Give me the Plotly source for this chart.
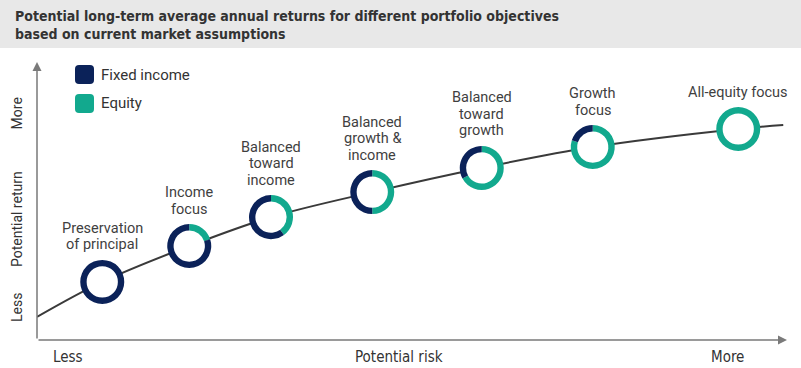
import plotly.graph_objects as go

# ---------------- data ----------------
portfolios = ["Preservation<br>of principal", "Income<br>focus", "Balanced<br>toward<br>income",
              "Balanced<br>growth &<br>income", "Balanced<br>toward<br>growth", "Growth<br>focus",
              "All-equity focus"]
equity_pct = [0, 20, 40, 50, 67, 80, 100]
fixed_income_pct = [100, 80, 60, 50, 33, 20, 0]
risk_level = [8.7, 20.3, 31.2, 44.7, 59.3, 74.1, 93.5]
return_level = [20.9, 33.8, 44.2, 53.2, 61.9, 69.4, 75.9]
curve_risk = [0.0, 8.7, 20.3, 31.2, 44.7, 59.3, 74.1, 93.5, 99.5]
curve_return = [8.3, 20.9, 33.8, 44.2, 53.2, 61.9, 69.4, 75.9, 77.3]
legend_labels = ["Fixed income", "Equity"]
x_axis_labels = ["Less", "Potential risk", "More"]
x_axis_label_pos = [4.1, 48.3, 92.1]
y_axis_labels = ["Less", "Potential return", "More"]
y_axis_label_pos = [11.5, 43.5, 81.5]
title_lines = ["Potential long-term average annual returns for different portfolio objectives",
               "based on current market assumptions"]

# ---------------- style ----------------
W, H = 801, 368
L, R, T, B = 37, 14, 62, 28
PW, PH = W - L - R, H - T - B
NAVY = "#0b2259"
TEAL = "#12a98e"
TXT = "#333333"
LBL = "#3f3f3f"
AXIS = "#7a7a7a"
NARROW = "DejaVu Sans Condensed, Liberation Sans Narrow, Arial Narrow, sans-serif"
SANS = "Roboto, Open Sans, sans-serif"
R_OUT = 22
HOLE = 0.71


def pxx(px):
    return (px - L) / PW


def pyy(py):
    return (H - B - py) / PH


def rounded_rect(x0, y0, x1, y1, r):
    # pixel coords, y up
    return (f"M{x0 + r},{y0} L{x1 - r},{y0} Q{x1},{y0} {x1},{y0 + r} L{x1},{y1 - r} "
            f"Q{x1},{y1} {x1 - r},{y1} L{x0 + r},{y1} Q{x0},{y1} {x0},{y1 - r} "
            f"L{x0},{y0 + r} Q{x0},{y0} {x0 + r},{y0} Z")


fig = go.Figure()

# curve
fig.add_trace(go.Scatter(x=curve_risk, y=curve_return, mode="lines", line_shape="spline",
                         line=dict(color="#3a3a3a", width=2), hoverinfo="skip", showlegend=False))
# white fill inside the donuts
fig.add_trace(go.Scatter(x=risk_level, y=return_level, mode="markers",
                         marker=dict(color="white", size=2 * R_OUT * HOLE + 2, line=dict(width=0)),
                         hoverinfo="skip", showlegend=False, cliponaxis=False))

hw, hh = R_OUT / PW, R_OUT / PH
for name, eq, fi, rx, ry in zip(portfolios, equity_pct, fixed_income_pct, risk_level, return_level):
    cx, cy = rx / 100, ry / 100
    fig.add_trace(go.Pie(values=[eq, fi], labels=["Equity", "Fixed income"],
                         marker=dict(colors=[TEAL, NAVY], line=dict(width=0)),
                         hole=HOLE, sort=False, direction="clockwise", rotation=0,
                         textinfo="none", hoverinfo="skip", showlegend=False,
                         domain=dict(x=[cx - hw, cx + hw], y=[cy - hh, cy + hh])))
    lines = name.split("<br>")
    n = len(lines)
    for i, ln in enumerate(lines):
        fig.add_annotation(x=rx, y=ry, xref="x", yref="y", text=ln, showarrow=False,
                           xanchor="center", yanchor="middle",
                           yshift=R_OUT + 15 + 16.5 * (n - 1 - i),
                           font=dict(family=SANS, size=14.5, color=LBL))

shapes = []
# title band
shapes.append(dict(type="rect", xref="paper", yref="paper", x0=pxx(0), x1=pxx(W),
                   y0=pyy(48), y1=pyy(0), fillcolor="#e8e8e8", line=dict(width=0), layer="below"))
# legend swatches
for k, (lab, col) in enumerate(zip(legend_labels, [NAVY, TEAL])):
    top = 65 + 29 * k
    shapes.append(dict(type="path", xref="paper", yref="paper", xsizemode="pixel", ysizemode="pixel",
                       xanchor=0, yanchor=1,
                       path=rounded_rect(75 - L, T - (top + 19), 94 - L, T - top, 4),
                       fillcolor=col, line=dict(width=0)))
    fig.add_annotation(x=pxx(99), y=pyy(top + 9.5), xref="paper", yref="paper", text=lab,
                       showarrow=False, xanchor="left", yanchor="middle",
                       font=dict(family=SANS, size=15, color=TXT))

# title text
for i, t in enumerate(title_lines):
    fig.add_annotation(x=pxx(13), y=pyy(16 + 18 * i), xref="paper", yref="paper",
                       text=f"<b>{t}</b>", showarrow=False, xanchor="left", yanchor="middle",
                       font=dict(family=NARROW, size=14, color=TXT))

# axes arrows
fig.add_annotation(x=100, y=0, ax=0, ay=0, xref="x", yref="y", axref="x", ayref="y", text="",
                   showarrow=True, arrowhead=2, arrowsize=1.2, arrowwidth=1.5, arrowcolor=AXIS)
fig.add_annotation(x=0, y=100, ax=0, ay=0, xref="x", yref="y", axref="x", ayref="y", text="",
                   showarrow=True, arrowhead=2, arrowsize=1.2, arrowwidth=1.5, arrowcolor=AXIS)

# axis labels
for lab, pos in zip(x_axis_labels, x_axis_label_pos):
    fig.add_annotation(x=pos, y=0, xref="x", yref="y", text=lab, showarrow=False,
                       xanchor="center", yanchor="middle", yshift=-17,
                       font=dict(family=NARROW, size=15, color=TXT))
for lab, pos in zip(y_axis_labels, y_axis_label_pos):
    fig.add_annotation(x=0, y=pos, xref="x", yref="y", text=lab, showarrow=False, textangle=-90,
                       xanchor="center", yanchor="middle", xshift=-20,
                       font=dict(family=SANS, size=14, color=TXT))

fig.update_layout(
    width=W, height=H, margin=dict(l=L, r=R, t=T, b=B),
    paper_bgcolor="white", plot_bgcolor="white",
    xaxis=dict(range=[0, 100], visible=False, fixedrange=True),
    yaxis=dict(range=[0, 100], visible=False, fixedrange=True),
    shapes=shapes, showlegend=False, hovermode=False,
)

fig.write_html("out.html", config={"displayModeBar": False},
               post_script="document.body.style.margin='0px';")
